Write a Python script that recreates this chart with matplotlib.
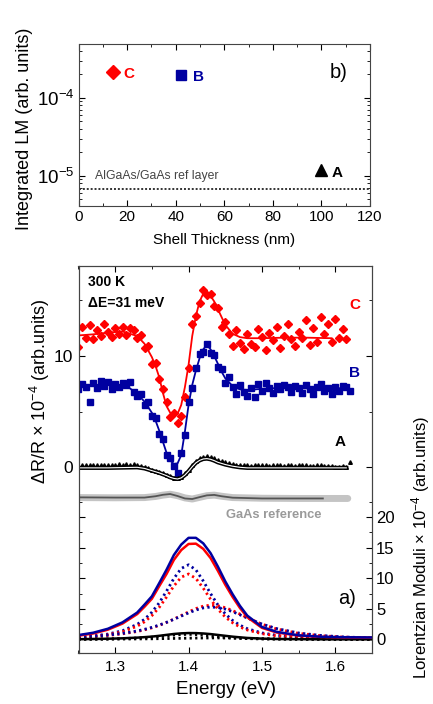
import matplotlib
matplotlib.use('Agg')
import matplotlib.pyplot as plt
from matplotlib.ticker import FixedLocator, MultipleLocator, LogLocator, NullFormatter

plt.rcParams['font.family'] = ['Liberation Sans', 'DejaVu Sans']
plt.rcParams['mathtext.fontset'] = 'custom'
plt.rcParams['mathtext.rm'] = 'Liberation Sans'
plt.rcParams['mathtext.it'] = 'Liberation Sans:italic'
plt.rcParams['mathtext.bf'] = 'Liberation Sans:bold'

RED = '#ff0000'
BLUE = '#0000a0'
GREY = '#9a9a9a'

# ---------------- panel b) data ----------------
shell_nm = [14, 42, 100]
lm_int = [2.15e-4, 1.97e-4, 1.19e-5]
ref_layer_lm = 6.8e-6

# ---------------- panel a) data: dR/R scatter ----------------
E_pts = [round(1.25 + 0.005 * i, 3) for i in range(75)]

C_pts = [10.8, 12.6, 11.6, 12.8, 11.5, 12.3, 11.8, 12.9, 12.2, 11.7,
         12.5, 12.0, 12.6, 11.9, 12.5, 12.3, 11.6, 11.9, 10.7, 10.9,
         9.3, 9.4, 7.9, 7.0, 5.9, 4.5, 4.9, 4.0, 4.6, 6.3,
         8.9, 12.9, 13.6, 14.8, 15.9, 15.5, 15.6, 14.5, 14.3, 12.6,
         13.1, 12.0, 10.9, 12.3, 11.2, 10.6, 12.0, 11.1, 10.8, 12.4,
         11.7, 10.5, 12.1, 11.4, 12.6, 10.7, 11.8, 12.9, 11.5, 10.9,
         12.2, 11.6, 13.2, 11.0, 12.5, 11.3, 13.5, 12.0, 12.9, 11.3,
         13.3, 11.6, 12.4, 11.5]

B_pts = [7.0, 7.5, 7.2, 5.9, 7.6, 7.1, 7.8, 7.3, 7.7, 7.0,
         7.5, 7.2, 7.6, 7.4, 7.7, 6.8, 6.4, 6.6, 5.6, 5.9,
         4.6, 4.4, 3.0, 2.5, 1.1, 0.8, 0.1, -0.5, 1.3, 2.9,
         5.9, 7.1, 8.9, 10.2, 10.4, 11.1, 10.3, 10.1, 9.0, 8.8,
         7.6, 8.1, 7.2, 6.6, 7.4, 6.8, 6.4, 7.1, 6.3, 7.5,
         6.9, 7.6, 7.1, 6.7, 7.3, 7.0, 7.4, 7.2, 6.8, 7.3,
         7.1, 6.7, 7.4, 7.0, 6.6, 7.2, 7.5, 6.9, 7.1, 6.6,
         7.2, 6.9, 7.3, 7.2, 6.9]

A_pts = [0.15, 0.2, 0.18, 0.22, 0.2, 0.17, 0.23, 0.2, 0.25, 0.22,
         0.2, 0.27, 0.24, 0.3, 0.25, 0.28, 0.22, 0.15, 0.05, -0.05,
         -0.2, -0.3, -0.45, -0.55, -0.7, -0.8, -0.95, -0.95, -0.85, -0.55,
         -0.2, 0.2, 0.55, 0.8, 0.95, 1.0, 0.9, 0.8, 0.65, 0.55,
         0.45, 0.35, 0.3, 0.25, 0.2, 0.18, 0.22, 0.15, 0.2, 0.17,
         0.22, 0.19, 0.15, 0.2, 0.18, 0.22, 0.16, 0.2, 0.19, 0.15,
         0.21, 0.18, 0.2, 0.16, 0.14, 0.2, 0.17, 0.12, 0.1, 0.08,
         0.05, 0.05, 0.1, 0.0, 0.45]

# fitted lines
E_C_line = [1.25, 1.27, 1.29, 1.31, 1.33, 1.34, 1.35, 1.355, 1.36, 1.365, 1.37, 1.375,
            1.38, 1.385, 1.39, 1.395, 1.40, 1.405, 1.41, 1.415, 1.42, 1.425, 1.43,
            1.435, 1.44, 1.445, 1.45, 1.46, 1.47, 1.48, 1.50, 1.53, 1.56, 1.595]
C_line = [11.85, 11.95, 12.1, 12.2, 11.8, 11.1, 9.9, 9.1, 8.1, 6.7, 5.5, 4.9,
          4.7, 4.8, 5.6, 7.2, 9.2, 11.8, 13.6, 14.9, 15.6, 15.7, 15.4,
          14.9, 14.2, 13.5, 12.8, 12.0, 11.7, 11.6, 11.6, 11.65, 11.65, 11.6]

E_B_line = [1.25, 1.27, 1.29, 1.31, 1.32, 1.33, 1.34, 1.35, 1.355, 1.36, 1.365, 1.37,
            1.375, 1.38, 1.385, 1.39, 1.395, 1.40, 1.405, 1.41, 1.415, 1.42, 1.425,
            1.43, 1.435, 1.44, 1.445, 1.45, 1.46, 1.47, 1.48, 1.50, 1.53, 1.56, 1.59, 1.615]
B_line = [7.3, 7.4, 7.45, 7.35, 7.1, 6.6, 5.9, 4.9, 4.2, 3.3, 2.3, 1.3,
          0.6, 0.3, 0.35, 1.1, 3.2, 5.6, 7.4, 8.7, 9.8, 10.6, 11.0,
          10.6, 10.0, 9.3, 8.6, 8.0, 7.3, 7.0, 6.95, 7.05, 7.15, 7.1, 7.1, 7.1]

E_A_line = [1.25, 1.29, 1.33, 1.34, 1.35, 1.36, 1.37, 1.375, 1.38, 1.385, 1.39, 1.395,
            1.40, 1.405, 1.41, 1.415, 1.42, 1.425, 1.43, 1.435, 1.44, 1.45, 1.46,
            1.47, 1.48, 1.50, 1.55, 1.615]
A_line = [-0.05, -0.05, 0.0, -0.1, -0.3, -0.5, -0.75, -0.9, -1.0, -1.05, -0.95, -0.7,
          -0.35, 0.05, 0.4, 0.62, 0.75, 0.78, 0.72, 0.6, 0.45, 0.25, 0.1,
          0.0, -0.05, -0.05, -0.05, -0.05]

E_ref = [1.25, 1.30, 1.34, 1.355, 1.365, 1.375, 1.385, 1.395, 1.405, 1.415, 1.425,
         1.435, 1.445, 1.46, 1.50, 1.55, 1.583, 1.617]
ref_band = [-2.72, -2.74, -2.72, -2.62, -2.5, -2.42, -2.55, -2.75, -2.85, -2.7, -2.55,
            -2.5, -2.6, -2.72, -2.78, -2.8, -2.8, -2.8]
ref_line = [-2.7, -2.72, -2.72, -2.6, -2.47, -2.4, -2.58, -2.8, -2.85, -2.68, -2.52,
            -2.48, -2.6, -2.73, -2.8, -2.8, -2.8]

# Lorentzian moduli (right axis)
E_lm = [1.25, 1.27, 1.29, 1.31, 1.33, 1.34, 1.35, 1.36, 1.37, 1.38, 1.39, 1.40, 1.41,
        1.42, 1.43, 1.44, 1.45, 1.46, 1.47, 1.48, 1.50, 1.52, 1.55, 1.58, 1.61, 1.65]
B_total = [0.72, 1.1, 1.75, 2.8, 4.4, 5.7, 7.05, 9.2, 11.4, 13.8, 15.5, 16.6, 16.6,
           15.7, 14.1, 11.9, 9.5, 7.4, 5.5, 3.9, 2.05, 1.25, 0.68, 0.45, 0.37, 0.33]
C_total = [0.62, 0.98, 1.6, 2.6, 4.15, 5.35, 6.65, 8.7, 10.7, 13.0, 14.6, 15.6, 15.65,
           14.8, 13.3, 11.2, 8.95, 6.95, 5.15, 3.65, 1.9, 1.15, 0.62, 0.42, 0.34, 0.30]
A_total = [0.05, 0.08, 0.12, 0.19, 0.3, 0.38, 0.47, 0.6, 0.75, 0.9, 1.0, 1.05, 1.04,
           0.98, 0.88, 0.74, 0.6, 0.46, 0.35, 0.25, 0.14, 0.08, 0.05, 0.03, 0.02, 0.02]
B_comp1 = [0.39, 0.58, 0.88, 1.43, 2.47, 3.3, 4.45, 5.98, 7.9, 9.97, 11.6, 12.2, 11.37,
           9.56, 7.49, 5.64, 4.19, 3.11, 2.33, 1.77, 1.07, 0.68, 0.38, 0.23, 0.15, 0.09]
C_comp1 = [0.34, 0.51, 0.77, 1.25, 2.17, 2.89, 3.9, 5.24, 6.93, 8.74, 10.17, 10.7, 9.97,
           8.38, 6.57, 4.95, 3.67, 2.73, 2.04, 1.55, 0.94, 0.6, 0.33, 0.2, 0.13, 0.08]
B_comp2 = [0.4, 0.53, 0.72, 0.99, 1.39, 1.66, 1.98, 2.35, 2.8, 3.29, 3.82, 4.34, 4.81,
           5.15, 5.3, 5.23, 4.96, 4.54, 4.03, 3.5, 2.52, 1.78, 1.06, 0.66, 0.42, 0.25]
C_comp2 = [0.35, 0.48, 0.66, 0.92, 1.3, 1.57, 1.9, 2.3, 2.78, 3.33, 3.92, 4.5, 5.05,
           5.45, 5.6, 5.5, 5.2, 4.72, 4.15, 3.55, 2.5, 1.72, 1.0, 0.62, 0.4, 0.24]
A_comp1 = [0.04, 0.06, 0.09, 0.15, 0.24, 0.3, 0.38, 0.48, 0.6, 0.72, 0.8, 0.84, 0.8,
           0.7, 0.57, 0.44, 0.33, 0.25, 0.19, 0.14, 0.09, 0.06, 0.03, 0.02, 0.01, 0.01]
A_comp2 = [0.03, 0.04, 0.05, 0.07, 0.09, 0.1, 0.11, 0.13, 0.15, 0.17, 0.19, 0.21, 0.23,
           0.24, 0.25, 0.25, 0.24, 0.22, 0.2, 0.17, 0.12, 0.09, 0.05, 0.03, 0.02, 0.01]

# ---------------- figure ----------------
W, H = 433, 704
fig = plt.figure(figsize=(W / 100, H / 100), dpi=100)

def fx(px):
    return px / W

def fy(py):
    return 1 - py / H

axb = fig.add_axes([fx(78.5), fy(206), fx(370) - fx(78.5), fy(44) - fy(206)])
axa = fig.add_axes([fx(78.5), fy(652.7), fx(372) - fx(78.5), fy(266) - fy(652.7)])
axr = axa.twinx()

# ---- panel b)
axb.set_yscale('log')
axb.set_xlim(0, 120)
axb.set_ylim(4.1e-6, 4.9e-4)
axb.plot(shell_nm[0], lm_int[0], marker='D', color=RED, ms=7.5, ls='none')
axb.plot(shell_nm[1], lm_int[1], marker='s', color=BLUE, ms=7, ls='none')
axb.plot(shell_nm[2], lm_int[2], marker='^', color='black', ms=9, ls='none')
axb.axhline(ref_layer_lm, color='#333333', ls=(0, (1, 1)), lw=1.4)
axb.xaxis.set_major_locator(MultipleLocator(20))
axb.xaxis.set_minor_locator(MultipleLocator(10))
axb.yaxis.set_major_locator(LogLocator(base=10, numticks=10))
axb.yaxis.set_minor_locator(LogLocator(base=10, subs=range(2, 10), numticks=10))
axb.yaxis.set_minor_formatter(NullFormatter())
axb.tick_params(which='both', direction='in', top=True, right=True)
axb.tick_params(which='major', length=4, width=0.8)
axb.tick_params(which='minor', length=2, width=0.6)
axb.tick_params(axis='x', labelsize=11, pad=3)
axb.tick_params(axis='y', labelsize=13.5, pad=3)
for s in axb.spines.values():
    s.set_linewidth(0.8)
    s.set_color('#444444')
axb.text(18.5, 2.03e-4, 'C', color=RED, fontsize=11, fontweight='bold', va='center')
axb.text(47.0, 1.86e-4, 'B', color=BLUE, fontsize=11, fontweight='bold', va='center')
axb.text(104.0, 1.09e-5, 'A', color='black', fontsize=11, fontweight='bold', va='center')
axb.text(103.2, 2.09e-4, 'b)', color='black', fontsize=14.5, va='center')
axb.text(6.8, 1.0e-5, 'AlGaAs/GaAs ref layer', color='#444444', fontsize=8.8, va='center')

fig.text(fx(25), fy(129), 'Integrated LM (arb. units)', rotation=90, ha='center', va='center',
         fontsize=13)
fig.text(fx(224), fy(240), 'Shell Thickness (nm)', ha='center', va='center', fontsize=11)

# ---- panel a)
axa.set_xlim(1.25, 1.65)
axa.set_ylim(-16.66, 18.09)
axr.set_ylim(-2.16, 61.0)

axa.plot(E_ref, ref_band, color='#c4c4c4', lw=5, solid_capstyle='round', zorder=2)
axa.plot(E_ref[:len(ref_line)], ref_line, color='#555555', lw=1.3, zorder=3)

axa.plot(E_pts[:len(C_pts)], C_pts, ls='none', marker='D', ms=3.8, color=RED, zorder=4)
axa.plot(E_C_line, C_line, color=RED, lw=1.3, zorder=5)
axa.plot(E_pts[:len(B_pts)], B_pts, ls='none', marker='s', ms=3.8, color=BLUE, zorder=4)
axa.plot(E_B_line, B_line, color=BLUE, lw=1.3, zorder=5)
axa.plot(E_pts[:len(A_pts)], A_pts, ls='none', marker='^', ms=2.6, color='black', zorder=4)
axa.plot(E_A_line, A_line, color='black', lw=3.0, zorder=5)
axa.plot(E_A_line, A_line, color='white', lw=0.8, zorder=6)

dot = (0, (0.8, 1.2))
axr.plot(E_lm, B_comp1, color=BLUE, lw=2.0, ls=dot)
axr.plot(E_lm, C_comp1, color=RED, lw=2.0, ls=dot)
axr.plot(E_lm, C_comp2, color=RED, lw=2.0, ls=dot)
axr.plot(E_lm, B_comp2, color=BLUE, lw=2.0, ls=dot)
axr.plot(E_lm, A_comp1, color='black', lw=2.0, ls=dot)
axr.plot(E_lm, A_comp2, color='black', lw=2.0, ls=dot)
axr.plot(E_lm, A_total, color='black', lw=1.8)
axr.plot(E_lm, C_total, color=RED, lw=1.8)
axr.plot(E_lm, B_total, color=BLUE, lw=1.8)

axa.xaxis.set_major_locator(MultipleLocator(0.1))
axa.xaxis.set_minor_locator(MultipleLocator(0.05))
axa.yaxis.set_major_locator(FixedLocator([0, 10]))
axa.yaxis.set_minor_locator(FixedLocator([5, 15]))
axr.yaxis.set_major_locator(FixedLocator([0, 5, 10, 15, 20]))
axr.yaxis.set_minor_locator(FixedLocator([2.5, 7.5, 12.5, 17.5, 22.5]))

axa.tick_params(axis='x', which='both', direction='in', top=True, bottom=True, labelsize=11, pad=5)
axa.tick_params(axis='y', which='both', direction='in', left=True, right=True,
                labelright=False, labelsize=12.5, pad=4)
axr.tick_params(axis='y', which='both', direction='in', left=True, right=True,
                labelleft=False, labelright=True, labelsize=12, pad=3)
for a in (axa, axr):
    a.tick_params(which='major', length=4, width=0.8)
    a.tick_params(which='minor', length=2.5, width=0.6)
    for s in a.spines.values():
        s.set_linewidth(0.8)
        s.set_color('#444444')

axa.text(1.263, 16.65, '300 K', fontsize=10, fontweight='bold', va='center')
axa.text(1.263, 14.76, 'ΔE=31 meV', fontsize=10, fontweight='bold', va='center')
axa.text(1.619, 14.6, 'C', color=RED, fontsize=11, fontweight='bold', va='center')
axa.text(1.619, 8.5, 'B', color=BLUE, fontsize=11, fontweight='bold', va='center')
axa.text(1.599, 2.3, 'A', color='black', fontsize=11, fontweight='bold', va='center')
axa.text(1.4507, -4.3, 'GaAs reference', color=GREY, fontsize=9.3, fontweight='bold', va='center')
axa.text(1.6045, -11.75, 'a)', color='black', fontsize=14.5, va='center')

fig.text(fx(40), fy(391), 'ΔR/R × 10$^{-4}$ (arb.units)', rotation=90, ha='center', va='center',
         fontsize=13)
fig.text(fx(421), fy(548), 'Lorentzian Moduli × 10$^{-4}$ (arb.units)', rotation=90,
         ha='center', va='center', fontsize=12)
fig.text(fx(226), fy(690), 'Energy (eV)', ha='center', va='center', fontsize=13.5)

fig.savefig('out.png', dpi=100)
